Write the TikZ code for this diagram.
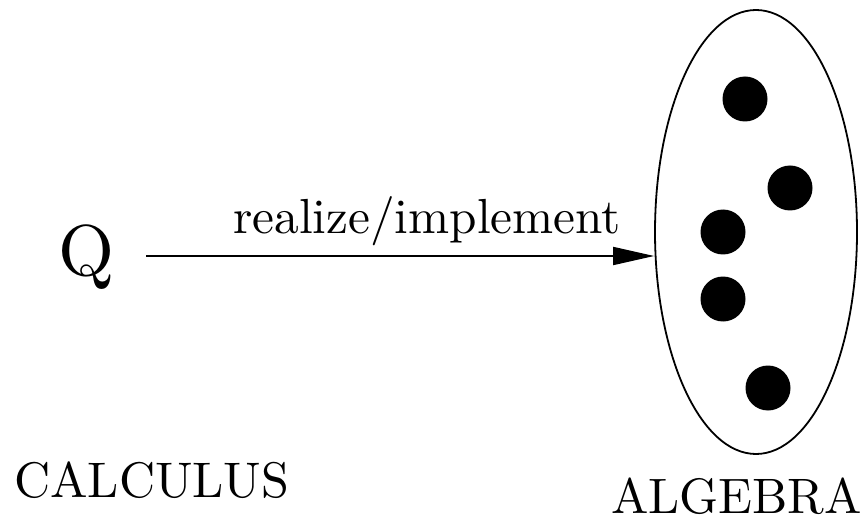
\documentclass[tikz,border=0pt]{standalone}
\usepackage{fontspec}
\setmainfont{lmroman10-regular.otf}
\usetikzlibrary{arrows.meta,shapes.geometric}
\begin{document}
\begin{tikzpicture}[x=1pt,y=-1pt,
  label text/.style={inner sep=0pt,anchor=base west,font=\fontsize{50}{56}\selectfont},
  element/.style={circle,fill=black,draw=none,minimum size=45pt,inner sep=0pt},
  set/.style={ellipse,draw,line width=1.8pt,minimum width=202pt,minimum height=444pt,inner sep=0pt},
  map/.style={line width=1.8pt,-{Triangle[length=41pt,width=18pt]}}]
  \useasboundingbox (0,0) rectangle (864,521);

  % the algebra: a set of elements
  \node[set] (alg) at (756,232) {};
  \node[element] (e1) at (745,99) {};
  \node[element] (e2) at (790,188) {};
  \node[element] (e3) at (723,232) {};
  \node[element] (e4) at (723,299) {};
  \node[element] (e5) at (768,388) {};

  % the calculus side
  \node[inner sep=0pt,anchor=base west,font=\fontsize{72}{80}\selectfont] (q) at (58,275) {Q};
  \coordinate (src) at (146,256);
  \draw[map] (src) -- (src -| alg.west);
  \node[label text,font=\fontsize{49.3}{56}\selectfont] (lbl) at (233,234) {realize/implement};

  % captions
  \node[label text] (calc) at (14,497) {CALCULUS};
  \node[label text,font=\fontsize{49.8}{56}\selectfont] (algname) at (611,513) {ALGEBRA};
\end{tikzpicture}
\end{document}
